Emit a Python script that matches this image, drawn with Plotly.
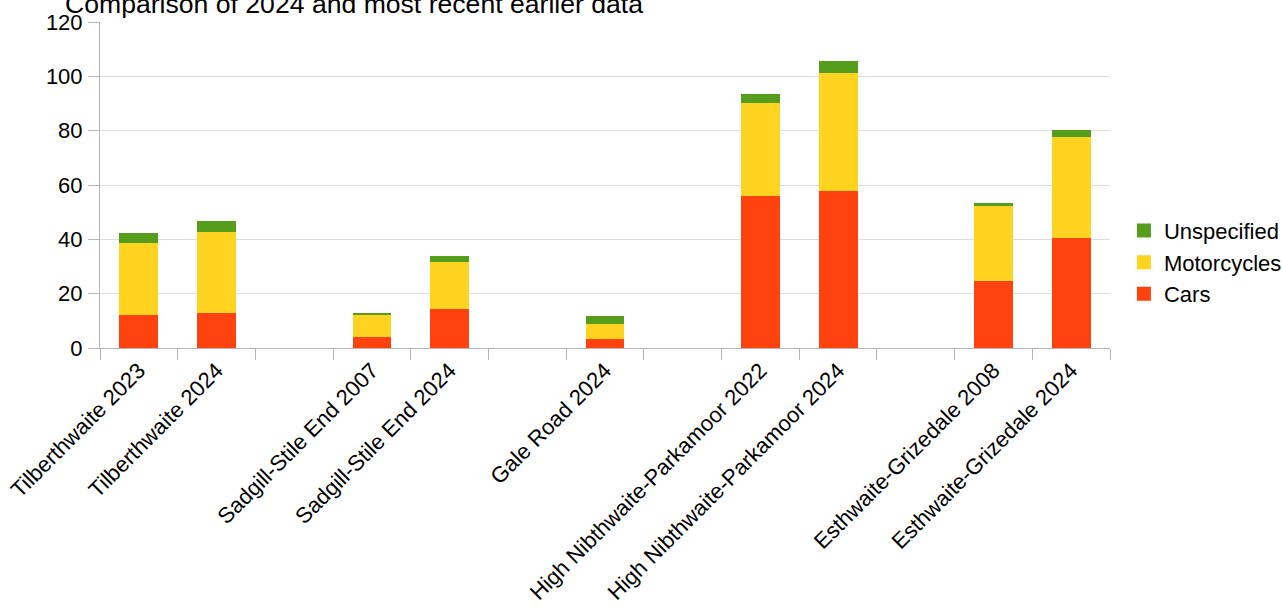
import plotly.graph_objects as go

# Category slots (blank placeholders create the gaps between sites)
categories = [
    "Tilberthwaite 2023", "Tilberthwaite 2024", " ",
    "Sadgill-Stile End 2007", "Sadgill-Stile End 2024", "  ",
    "Gale Road 2024", "   ",
    "High Nibthwaite-Parkamoor 2022", "High Nibthwaite-Parkamoor 2024", "    ",
    "Esthwaite-Grizedale 2008", "Esthwaite-Grizedale 2024",
]

sites = [
    "Tilberthwaite 2023", "Tilberthwaite 2024",
    "Sadgill-Stile End 2007", "Sadgill-Stile End 2024",
    "Gale Road 2024",
    "High Nibthwaite-Parkamoor 2022", "High Nibthwaite-Parkamoor 2024",
    "Esthwaite-Grizedale 2008", "Esthwaite-Grizedale 2024",
]

cars = [12.3, 12.8, 4.1, 14.4, 3.4, 56.0, 57.7, 24.7, 40.5]
motorcycles = [26.4, 30.0, 8.1, 17.4, 5.3, 34.2, 43.5, 27.4, 37.0]
unspecified = [3.7, 4.0, 0.7, 2.1, 3.2, 3.4, 4.3, 1.4, 2.8]

series_names = ["Cars", "Motorcycles", "Unspecified"]
series_colors = ["#FF420E", "#FFD320", "#579D1C"]
series_values = [cars, motorcycles, unspecified]

y_ticks = [0, 20, 40, 60, 80, 100, 120]

FONT = "Liberation Sans, Arial, sans-serif"

fig = go.Figure()
for name, color, vals in zip(series_names, series_colors, series_values):
    fig.add_trace(go.Bar(name=name, x=sites, y=vals, showlegend=False,
                         legendgroup=name,
                         marker=dict(color=color, line=dict(width=0))))
# legend entries with larger square swatches
for name, color in zip(series_names, series_colors):
    fig.add_trace(go.Scatter(name=name, x=[None], y=[None], mode="markers",
                             legendgroup=name,
                             marker=dict(symbol="square", size=14, color=color)))

fig.update_layout(
    width=1282, height=607,
    barmode="stack", bargap=0.5,
    paper_bgcolor="white", plot_bgcolor="white",
    margin=dict(l=100, r=172, t=22, b=259, autoexpand=False),
    font=dict(family=FONT, size=22, color="#000000"),
    title=dict(
        text="Comparison of 2024 and most recent earlier data",
        font=dict(family=FONT, size=26.6, color="#000000"),
        x=65 / 1282, xanchor="left", xref="container",
        y=1 - 13 / 607, yanchor="bottom", yref="container",
    ),
    legend=dict(
        traceorder="reversed",
        x=1.0138, xanchor="left", y=0.263, yanchor="middle",
        font=dict(family=FONT, size=22, color="#000000"),
        bgcolor="rgba(0,0,0,0)",
    ),
    showlegend=True,
)

fig.update_xaxes(
    type="category", categoryorder="array", categoryarray=categories,
    tickson="boundaries", ticks="outside", ticklen=11, tickcolor="#b3b3b3",
    showline=True, linecolor="#b3b3b3", linewidth=1,
    showgrid=False, tickangle=-45, automargin=False,
    tickfont=dict(family=FONT, size=22, color="#000000"),
)
fig.update_yaxes(
    range=[0, 120], tickvals=y_ticks, ticks="outside", ticklen=11, tickcolor="#b3b3b3",
    showline=True, linecolor="#b3b3b3", linewidth=1,
    showgrid=True, gridcolor="#dddddd", gridwidth=1, zeroline=False,
    automargin=False, ticklabelstandoff=1,
    tickfont=dict(family=FONT, size=22, color="#000000"),
)

fig.write_html("out.html")
